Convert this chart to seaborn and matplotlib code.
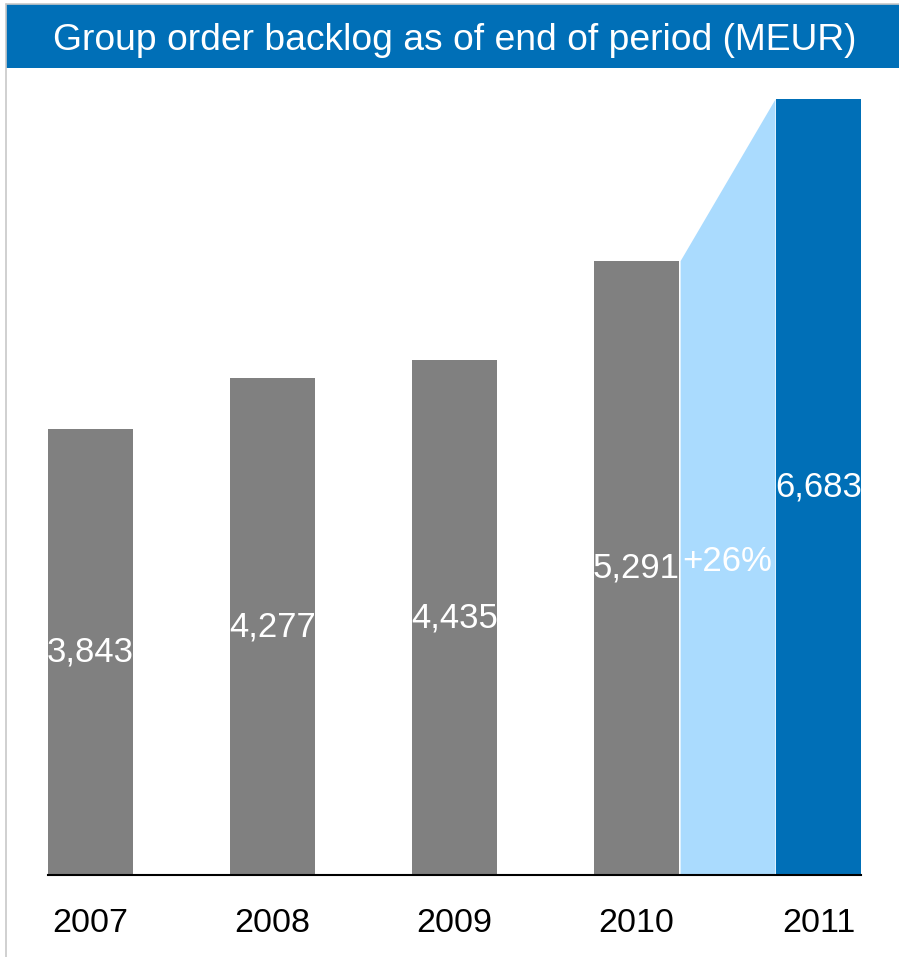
import matplotlib
matplotlib.use("Agg")
import matplotlib.pyplot as plt
import seaborn as sns
import pandas as pd
from matplotlib.patches import Rectangle
from matplotlib.lines import Line2D

years = ["2007", "2008", "2009", "2010", "2011"]
values = [3843, 4277, 4435, 5291, 6683]
value_labels = ["3,843", "4,277", "4,435", "5,291", "6,683"]
growth_label = "+26%"
title = "Group order backlog as of end of period (MEUR)"

GRAY = "#808080"
BLUE = "#006FB7"
LIGHT = "#AADBFE"
colors = [GRAY, GRAY, GRAY, GRAY, BLUE]

sns.set_theme(style="white")
plt.rcParams["font.family"] = ["Liberation Sans", "DejaVu Sans"]

W, H = 899, 957
fig = plt.figure(figsize=(W / 100, H / 100), dpi=100)

# axes placement in pixels
ax_left, ax_right, ax_bottom, ax_top = 48, 861, 875, 99
ax = fig.add_axes([ax_left / W, (H - ax_bottom) / H, (ax_right - ax_left) / W, (ax_bottom - ax_top) / H])

df = pd.DataFrame({"year": years, "value": values})
bw = 0.467
sns.barplot(data=df, x="year", y="value", hue="year", palette=colors, width=bw,
            legend=False, ax=ax, saturation=1, linewidth=0, edgecolor="none")

# growth wedge between 2010 and 2011
x0, x1 = 3 + bw / 2 + 0.006, 4 - bw / 2 - 0.006
ax.fill_between([x0, x1], [values[3], values[4]], [0, 0], color=LIGHT, linewidth=0, zorder=1)

ax.set_xlim(-bw / 2, 4 + bw / 2)
ax.set_ylim(0, values[4])
ax.set_xlabel("")
ax.set_ylabel("")
ax.set_yticks([])
for s in ["top", "right", "left"]:
    ax.spines[s].set_visible(False)
ax.spines["bottom"].set_color("black")
ax.spines["bottom"].set_linewidth(1.5)
ax.spines["bottom"].set_zorder(5)
ax.tick_params(axis="x", length=0, pad=24, labelsize=24.5, labelcolor="black")

# value labels
for i, (v, lab) in enumerate(zip(values, value_labels)):
    ax.text(i, v / 2, lab, ha="center", va="center", color="white", fontsize=25, zorder=6)
ax.text((x0 + x1) / 2, 2700, growth_label, ha="center", va="center", color="white", fontsize=25, zorder=6)

# banner
fig.patches.append(Rectangle((6 / W, 1 - 68 / H), (W - 6) / W, 64 / H, transform=fig.transFigure,
                             facecolor=BLUE, edgecolor="none", zorder=0))
fig.text(455 / W, 1 - 41 / H, title, ha="center", va="center", color="white", fontsize=26.8)
# thin frame lines
fig.lines.append(Line2D([6 / W, 6 / W], [0, 1 - 4 / H], transform=fig.transFigure, color="#C8C8C8", linewidth=1.2))
fig.lines.append(Line2D([6 / W, 1], [1 - 4 / H, 1 - 4 / H], transform=fig.transFigure, color="#C8C8C8", linewidth=1.2))

fig.savefig("out.png", dpi=100)
